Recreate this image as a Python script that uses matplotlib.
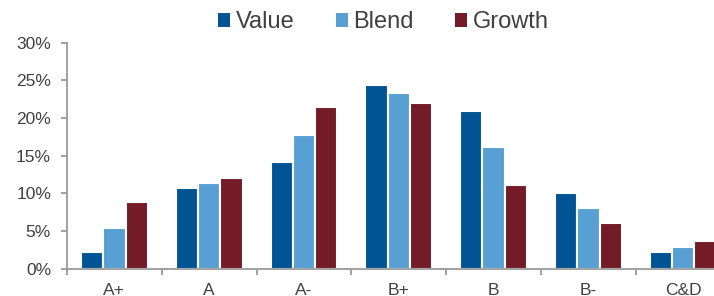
import matplotlib
matplotlib.use("Agg")
import matplotlib.pyplot as plt
import numpy as np
from matplotlib.ticker import FixedLocator, FuncFormatter

categories = ["A+", "A", "A-", "B+", "B", "B-", "C&D"]
value = [2.2, 10.7, 14.1, 24.4, 20.9, 10.0, 2.2]
blend = [5.4, 11.4, 17.7, 23.3, 16.1, 8.1, 2.9]
growth = [8.9, 12.1, 21.5, 22.0, 11.1, 6.1, 3.7]
series_names = ["Value", "Blend", "Growth"]
colors = ["#005493", "#58A0D4", "#731C27"]

plt.rcParams['font.family'] = ['Liberation Sans', 'DejaVu Sans']

fig = plt.figure(figsize=(7.14, 2.96), dpi=100)
ax = fig.add_axes([67/714, 27.3/296, 663.6/714, 226/296])

x = np.arange(len(categories))
w = 0.2353
for i, (vals, name, c) in enumerate(zip([value, blend, growth], series_names, colors)):
    ax.bar(x + (i - 1) * w, vals, width=w, color=c, edgecolor='white', linewidth=1.5, label=name)

ax.set_xlim(-0.5, len(categories) - 0.5)
ax.set_ylim(0, 30)
ax.set_yticks([0, 5, 10, 15, 20, 25, 30])
ax.yaxis.set_major_formatter(FuncFormatter(lambda v, p: f"{int(v)}%"))
ax.set_xticks(x)
ax.set_xticklabels(categories)
ax.xaxis.set_minor_locator(FixedLocator(np.arange(-0.5, len(categories) + 0.5, 1)))

gray = "#9a9a9a"
for s in ["top", "right"]:
    ax.spines[s].set_visible(False)
for s in ["left", "bottom"]:
    ax.spines[s].set_color(gray)
    ax.spines[s].set_linewidth(1.3)

ax.tick_params(axis='y', direction='out', length=4, width=1.3, color=gray, pad=7.5,
               labelsize=12.5, labelcolor="#404040")
ax.tick_params(axis='x', which='major', length=0, pad=10, labelsize=12.5, labelcolor="#404040")
ax.tick_params(axis='x', which='minor', direction='out', length=4, width=1.3, color=gray)

leg = fig.legend(loc='center', bbox_to_anchor=(0.537, 0.925), ncol=3, frameon=False,
                 fontsize=17, handlelength=0.51, handleheight=0.51, handletextpad=0.25,
                 columnspacing=1.74, borderpad=0, borderaxespad=0)
for t in leg.get_texts():
    t.set_color("#404040")
for h in leg.legend_handles:
    h.set_edgecolor('none')

fig.savefig("out.png", dpi=100)
